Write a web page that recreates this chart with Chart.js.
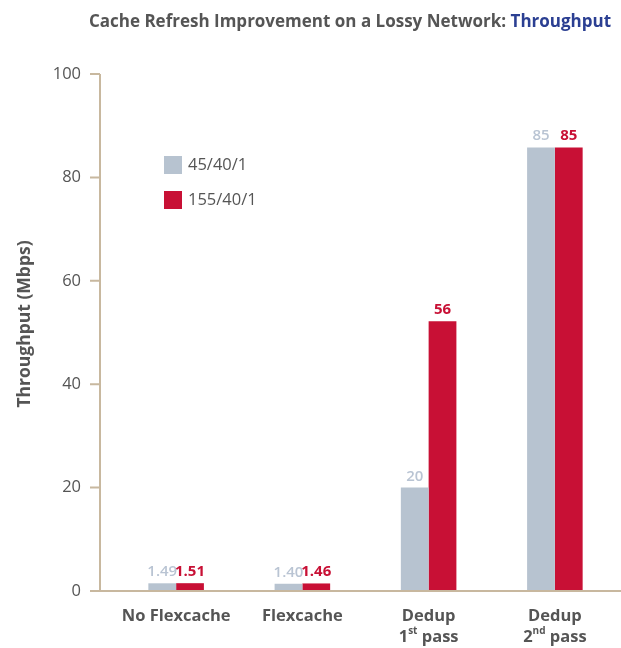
<!DOCTYPE html>
<html lang="en">
<head>
<meta charset="UTF-8">
<title>Cache Refresh Improvement on a Lossy Network: Throughput</title>
<script src="https://cdn.jsdelivr.net/npm/chart.js"></script>
<style>
    body { margin: 0; background: #fff; }
    canvas { display: block; }
</style>
</head>
<body>
<canvas id="chart" width="621" height="648"></canvas>
<script>
// data
const categories = ['No Flexcache', 'Flexcache', 'Dedup|1^st pass', 'Dedup|2^nd pass'];
const seriesNames = ['45/40/1', '155/40/1'];
const values45 = [1.49, 1.40, 20, 85.8];
const values155 = [1.51, 1.46, 52.2, 85.8];
const labels45 = ['1.49', '1.40', '20', '85'];
const labels155 = ['1.51', '1.46', '56', '85'];
const yTicks = [0, 20, 40, 60, 80, 100];

const GREY = '#b7c3d0';
const RED = '#c81035';
const TEXT = '#555555';
const AXIS = '#c8b89f';
const FONT = '"Open Sans", sans-serif';

// draws "1^st pass" with a raised suffix
function richWidth(ctx, str, size) {
    let w = 0;
    str.split(/(\^\w+)/).forEach(part => {
        if (!part) return;
        if (part[0] === '^') {
            ctx.font = 'bold ' + Math.round(size * 0.62) + 'px ' + FONT;
            w += ctx.measureText(part.slice(1)).width;
        } else {
            ctx.font = 'bold ' + size + 'px ' + FONT;
            w += ctx.measureText(part).width;
        }
    });
    return w;
}
function drawRich(ctx, str, cx, y, size) {
    let x = cx - richWidth(ctx, str, size) / 2;
    ctx.textAlign = 'left';
    str.split(/(\^\w+)/).forEach(part => {
        if (!part) return;
        if (part[0] === '^') {
            ctx.font = 'bold ' + Math.round(size * 0.62) + 'px ' + FONT;
            ctx.fillText(part.slice(1), x, y - size * 0.38);
            x += ctx.measureText(part.slice(1)).width;
        } else {
            ctx.font = 'bold ' + size + 'px ' + FONT;
            ctx.fillText(part, x, y);
            x += ctx.measureText(part).width;
        }
    });
}

const extras = {
    id: 'extras',
    afterDraw(chart) {
        const ctx = chart.ctx;
        const area = chart.chartArea;
        const yScale = chart.scales.y;
        const xScale = chart.scales.x;
        ctx.save();

        // title
        const t1 = 'Cache Refresh Improvement on a Lossy Network: ';
        const t2 = 'Throughput';
        ctx.font = 'bold 17px ' + FONT;
        ctx.textBaseline = 'middle';
        ctx.textAlign = 'left';
        const w1 = ctx.measureText(t1).width;
        const w2 = ctx.measureText(t2).width;
        const tx = 350 - (w1 + w2) / 2;
        ctx.fillStyle = TEXT;
        ctx.fillText(t1, tx, 22);
        ctx.fillStyle = '#2b3f92';
        ctx.fillText(t2, tx + w1, 22);

        // axes
        const axisX = 100;
        ctx.strokeStyle = AXIS;
        ctx.lineWidth = 2;
        ctx.beginPath();
        ctx.moveTo(axisX, yScale.getPixelForValue(100));
        ctx.lineTo(axisX, area.bottom);
        ctx.moveTo(90, area.bottom);
        ctx.lineTo(chart.width, area.bottom);
        yTicks.forEach(v => {
            const py = yScale.getPixelForValue(v);
            ctx.moveTo(90, py);
            ctx.lineTo(axisX, py);
        });
        ctx.stroke();

        // y title
        ctx.save();
        ctx.translate(25, 324);
        ctx.rotate(-Math.PI / 2);
        ctx.font = 'bold 17.5px ' + FONT;
        ctx.fillStyle = TEXT;
        ctx.textAlign = 'center';
        ctx.fillText('Throughput (Mbps)', 0, 0);
        ctx.restore();

        // category labels
        ctx.fillStyle = TEXT;
        ctx.textBaseline = 'middle';
        categories.forEach((c, i) => {
            const cx = xScale.getPixelForValue(i);
            c.split('|').forEach((line, k) => {
                drawRich(ctx, line, cx, area.bottom + 25 + k * 21, 16.5);
            });
        });

        // value labels
        ctx.textAlign = 'center';
        ctx.textBaseline = 'alphabetic';
        [labels45, labels155].forEach((labs, d) => {
            const meta = chart.getDatasetMeta(d);
            ctx.fillStyle = d === 0 ? '#b9c4d3' : RED;
            ctx.font = (d === 0 ? '600 ' : 'bold ') + '15px ' + FONT;
            meta.data.forEach((bar, i) => {
                ctx.fillText(labs[i], bar.x, bar.y - 7);
            });
        });

        // legend
        ctx.textBaseline = 'middle';
        ctx.textAlign = 'left';
        ctx.font = '16.5px ' + FONT;
        seriesNames.forEach((name, i) => {
            const ly = 165 + i * 35;
            ctx.fillStyle = i === 0 ? GREY : RED;
            ctx.fillRect(164, ly - 9, 18, 18);
            ctx.fillStyle = TEXT;
            ctx.fillText(name, 188, ly);
        });

        ctx.restore();
    }
};

new Chart(document.getElementById('chart'), {
    type: 'bar',
    data: {
        labels: categories,
        datasets: [
            { label: seriesNames[0], data: values45, backgroundColor: GREY },
            { label: seriesNames[1], data: values155, backgroundColor: RED }
        ]
    },
    options: {
        responsive: false,
        animation: false,
        layout: { padding: { top: 74, right: 3, left: 0, bottom: 0 } },
        datasets: { bar: { categoryPercentage: 0.44, barPercentage: 1 } },
        plugins: { legend: { display: false }, tooltip: { enabled: false } },
        scales: {
            x: {
                grid: { display: false },
                border: { display: false },
                ticks: { display: false },
                afterFit(s) { s.height = 57; }
            },
            y: {
                min: 0,
                max: 100,
                grid: { display: false, drawTicks: false },
                border: { display: false },
                afterBuildTicks(s) { s.ticks = yTicks.map(v => ({ value: v })); },
                ticks: { padding: 32, color: TEXT, font: { family: FONT, size: 16.5 } },
                afterFit(s) { s.width = 113; }
            }
        }
    },
    plugins: [extras]
});
</script>
</body>
</html>
